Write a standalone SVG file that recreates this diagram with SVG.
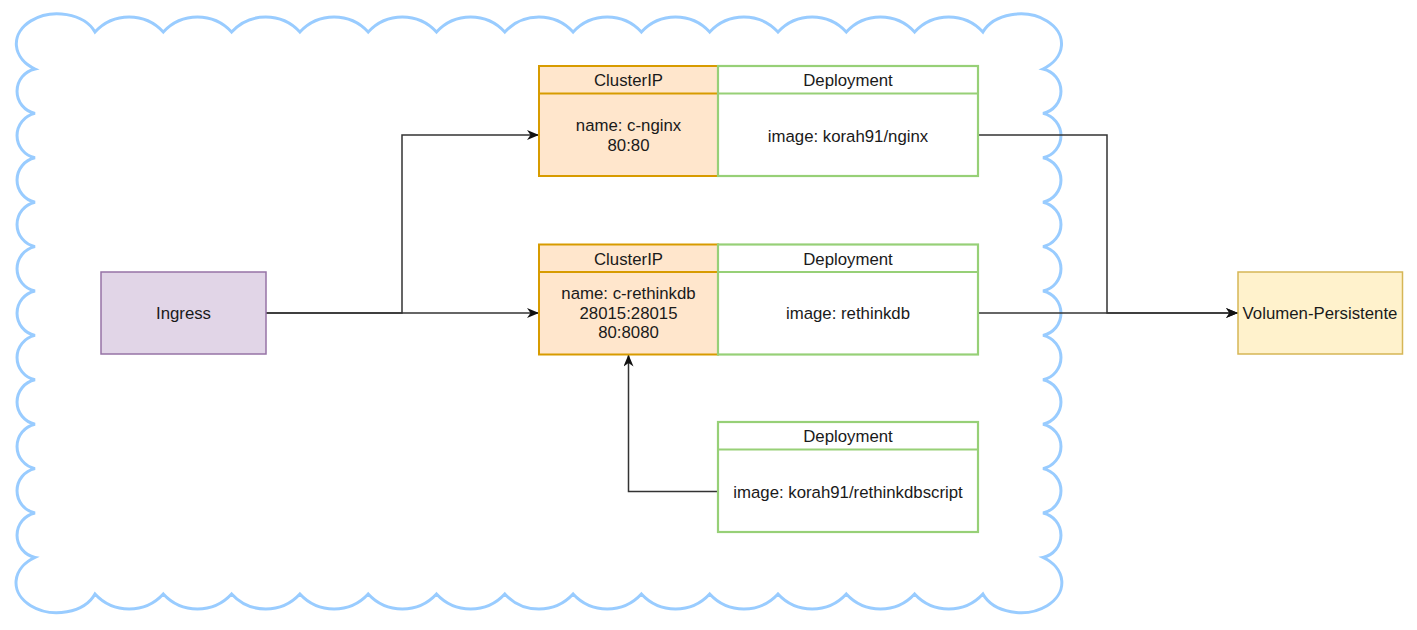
<svg xmlns="http://www.w3.org/2000/svg" width="1417" height="630" viewBox="0 0 1417 630">
<defs>
<style>
text{font-family:"Liberation Sans",Arial,sans-serif;font-size:16.8px;fill:#1a1a1a;text-anchor:middle}
.cip{fill:#ffe6cc;stroke:#d79b00;stroke-width:2}
.dep{fill:#ffffff;stroke:#97d077;stroke-width:2.2}
.edge{fill:none;stroke:#333333;stroke-width:1.5}
</style>
<marker id="arr" viewBox="0 0 12 10" refX="12" refY="5" markerWidth="12" markerHeight="10" markerUnits="userSpaceOnUse" orient="auto">
<path d="M0,0 L12,5 L0,10 L3.5,5 Z" fill="#111111"/>
</marker>
</defs>
<rect width="1417" height="630" fill="#ffffff"/>
<g id="cloud">
<path fill="#ffffff" stroke="#99ccff" stroke-width="3" d="M35,69 A41,30 0 1 1 95,32
a46.4,46.4 0 0 1 68.3,0 a46.4,46.4 0 0 1 68.3,0 a46.4,46.4 0 0 1 68.3,0 a46.4,46.4 0 0 1 68.3,0 a46.4,46.4 0 0 1 68.3,0 a46.4,46.4 0 0 1 68.3,0 a46.4,46.4 0 0 1 68.3,0 a46.4,46.4 0 0 1 68.3,0 a46.4,46.4 0 0 1 68.3,0 a46.4,46.4 0 0 1 68.3,0 a46.4,46.4 0 0 1 68.3,0 a46.4,46.4 0 0 1 68.3,0 a46.4,46.4 0 0 1 68.3,0
A41,30 0 1 1 1043,69
a22.7,22.7 0 0 1 0,44.4 a22.7,22.7 0 0 1 0,44.4 a22.7,22.7 0 0 1 0,44.4 a22.7,22.7 0 0 1 0,44.4 a22.7,22.7 0 0 1 0,44.4 a22.7,22.7 0 0 1 0,44.4 a22.7,22.7 0 0 1 0,44.4 a22.7,22.7 0 0 1 0,44.4 a22.7,22.7 0 0 1 0,44.4 a22.7,22.7 0 0 1 0,44.4 a22.7,22.7 0 0 1 0,44.4
A41,30 0 1 1 982.9,594
a46.4,46.4 0 0 1 -68.3,0 a46.4,46.4 0 0 1 -68.3,0 a46.4,46.4 0 0 1 -68.3,0 a46.4,46.4 0 0 1 -68.3,0 a46.4,46.4 0 0 1 -68.3,0 a46.4,46.4 0 0 1 -68.3,0 a46.4,46.4 0 0 1 -68.3,0 a46.4,46.4 0 0 1 -68.3,0 a46.4,46.4 0 0 1 -68.3,0 a46.4,46.4 0 0 1 -68.3,0 a46.4,46.4 0 0 1 -68.3,0 a46.4,46.4 0 0 1 -68.3,0 a46.4,46.4 0 0 1 -68.3,0
A41,30 0 1 1 35,557.4
a22.7,22.7 0 0 1 0,-44.4 a22.7,22.7 0 0 1 0,-44.4 a22.7,22.7 0 0 1 0,-44.4 a22.7,22.7 0 0 1 0,-44.4 a22.7,22.7 0 0 1 0,-44.4 a22.7,22.7 0 0 1 0,-44.4 a22.7,22.7 0 0 1 0,-44.4 a22.7,22.7 0 0 1 0,-44.4 a22.7,22.7 0 0 1 0,-44.4 a22.7,22.7 0 0 1 0,-44.4 a22.7,22.7 0 0 1 0,-44.4 Z"/>
</g>
<g id="connectors">
<path class="edge" d="M266,313 H402 V135 H539" marker-end="url(#arr)"/>
<path class="edge" d="M266,313 H539" marker-end="url(#arr)"/>
<path class="edge" d="M978,135 H1107 V313 H1238" marker-end="url(#arr)"/>
<path class="edge" d="M978,313 H1238" marker-end="url(#arr)"/>
<path class="edge" d="M718,491.5 H628.5 V354.5" marker-end="url(#arr)"/>
</g>
<g id="ingress">
<rect x="101" y="272" width="165" height="82" fill="#e1d5e7" stroke="#9673a6" stroke-width="1.5"/>
<text x="183.5" y="319">Ingress</text>
</g>
<g id="volumen">
<rect x="1238" y="272" width="164.5" height="82" fill="#fff2cc" stroke="#d6b656" stroke-width="1.5"/>
<text x="1320" y="319">Volumen-Persistente</text>
</g>
<g id="clusterip-nginx">
<rect class="cip" x="539" y="66" width="179" height="110"/>
<line class="cip" x1="539" y1="93.5" x2="718" y2="93.5"/>
<text x="628.5" y="86">ClusterIP</text>
<text x="628.5" y="131">name: c-nginx</text>
<text x="628.5" y="151">80:80</text>
</g>
<g id="deployment-nginx">
<rect class="dep" x="718" y="66" width="260" height="110"/>
<line class="dep" x1="718" y1="93.5" x2="978" y2="93.5"/>
<text x="848" y="86">Deployment</text>
<text x="848" y="142">image: korah91/nginx</text>
</g>
<g id="clusterip-rethinkdb">
<rect class="cip" x="539" y="244.5" width="179" height="110"/>
<line class="cip" x1="539" y1="272" x2="718" y2="272"/>
<text x="628.5" y="264.5">ClusterIP</text>
<text x="628.5" y="299">name: c-rethinkdb</text>
<text x="628.5" y="318.5">28015:28015</text>
<text x="628.5" y="338">80:8080</text>
</g>
<g id="deployment-rethinkdb">
<rect class="dep" x="718" y="244.5" width="260" height="110"/>
<line class="dep" x1="718" y1="272" x2="978" y2="272"/>
<text x="848" y="264.5">Deployment</text>
<text x="848" y="319">image: rethinkdb</text>
</g>
<g id="deployment-script">
<rect class="dep" x="718" y="422" width="260" height="110"/>
<line class="dep" x1="718" y1="449.5" x2="978" y2="449.5"/>
<text x="848" y="442">Deployment</text>
<text x="848" y="497.5">image: korah91/rethinkdbscript</text>
</g>
</svg>
